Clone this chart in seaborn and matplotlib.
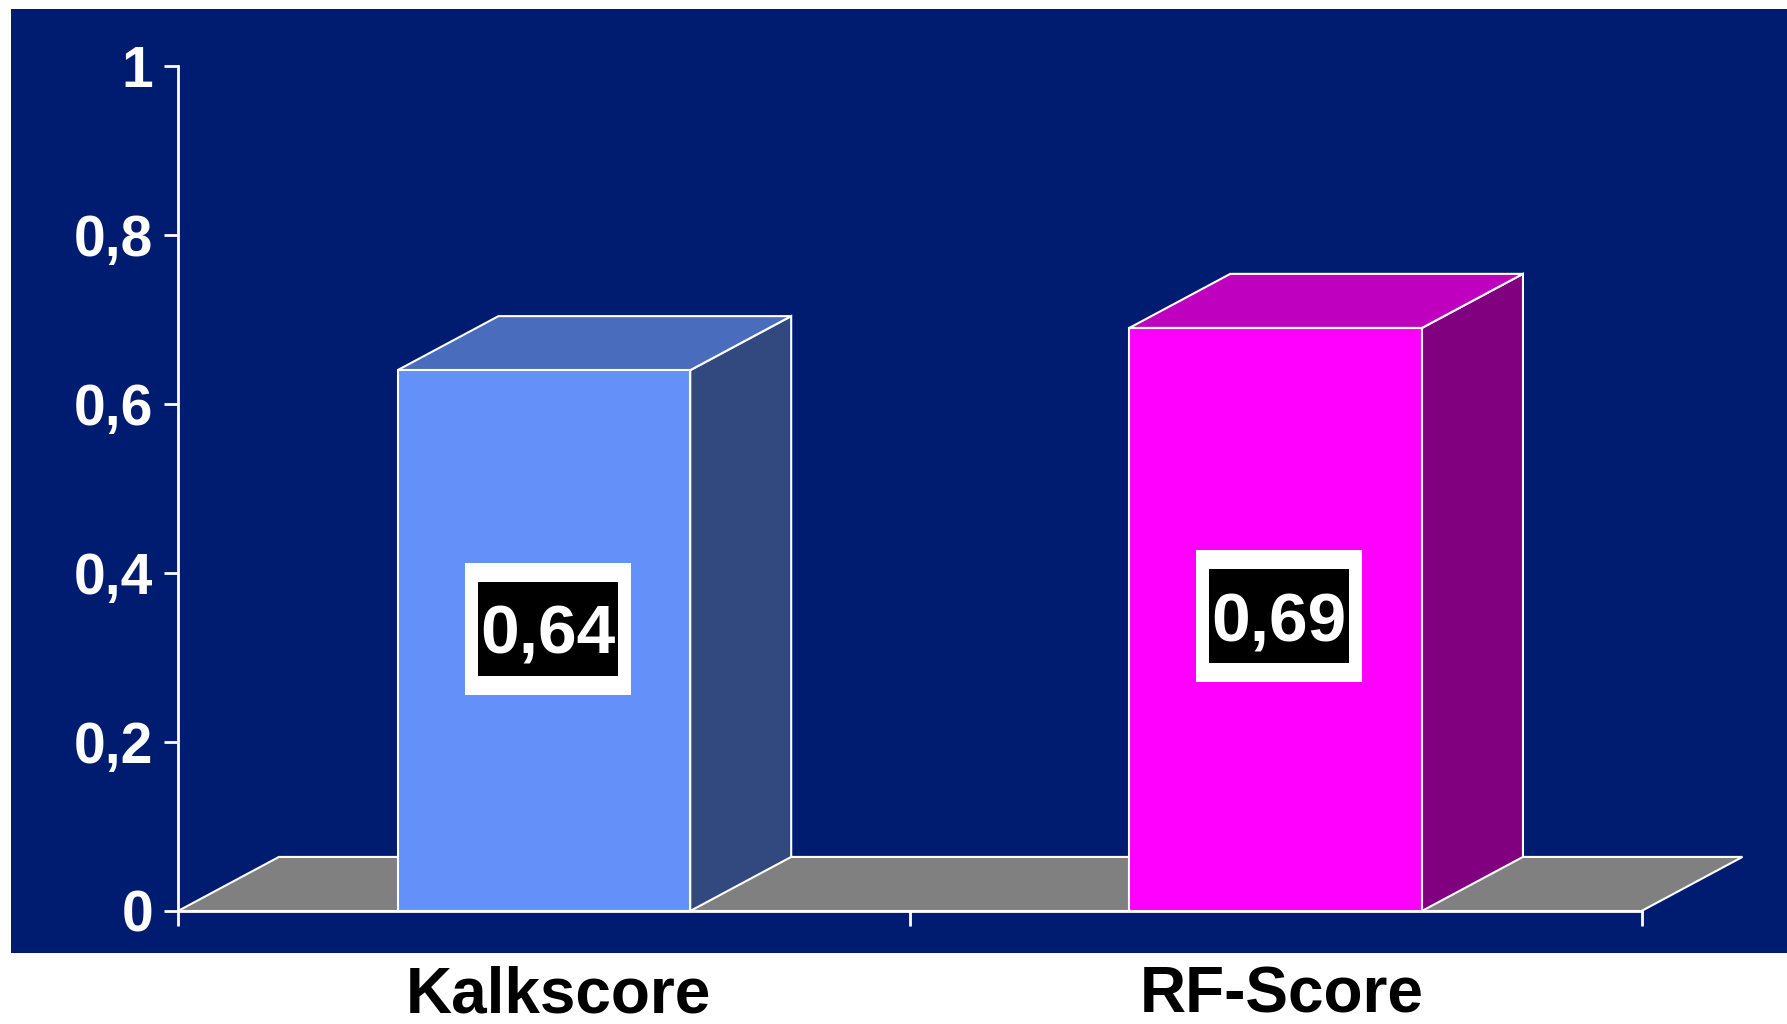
import matplotlib
matplotlib.use("Agg")
import matplotlib.pyplot as plt
from matplotlib.patches import Polygon, Rectangle
from matplotlib.transforms import blended_transform_factory
import seaborn as sns

# Scores compared in the chart
categories = ["Kalkscore", "RF-Score"]
values = [0.64, 0.69]
value_labels = ["0,64", "0,69"]
ytick_values = [0, 0.2, 0.4, 0.6, 0.8, 1.0]
ytick_labels = ["0", "0,2", "0,4", "0,6", "0,8", "1"]

# Face colours of each box: front, top, side
front_colors = ["#6490FA", "#FF00FF"]
top_colors = ["#4A6CBD", "#BF00BF"]
side_colors = ["#32497F", "#800080"]

BG = "#001C71"
FLOOR = "#808080"
DEPTH_X = 0.138   # depth offset in category units
DEPTH_Y = 0.064   # depth offset in value units
LABEL_SHIFT = [0.014, 0.004]  # vertical nudge of each value box above mid-bar

sns.set_theme(style="white")
plt.rcParams["font.family"] = ["Liberation Sans", "DejaVu Sans"]
plt.rcParams["font.weight"] = "bold"

fig = plt.figure(figsize=(17.87, 10.24), dpi=100, facecolor="white")
# dark blue panel behind the plot
panel = Rectangle((11 / 1787, 1 - 953 / 1024), 1776 / 1787, 944 / 1024,
                  transform=fig.transFigure, facecolor=BG, edgecolor="none",
                  zorder=-10)
fig.patches.append(panel)

ax = fig.add_axes([178 / 1787, 113 / 1024, 1463.5 / 1787, 845 / 1024])
ax.set_facecolor("none")
ax.set_zorder(1)

sns.barplot(x=categories, y=values, hue=categories, palette=front_colors,
            saturation=1, width=0.4, edgecolor="white", linewidth=1.5,
            legend=False, ax=ax, zorder=3)

ax.set_xlim(-0.5, len(categories) - 0.5)
ax.set_ylim(0, 1)

# grey floor under the boxes
x0, x1 = ax.get_xlim()
floor = Polygon([(x0, 0), (x1, 0), (x1 + DEPTH_X, DEPTH_Y), (x0 + DEPTH_X, DEPTH_Y)],
                closed=True, facecolor=FLOOR, edgecolor="white", linewidth=1.5,
                zorder=1, clip_on=False)
ax.add_patch(floor)

# top and side faces built from each bar's own geometry
bars = [p for p in ax.patches if p is not floor][:len(values)]
for bar, top_c, side_c in zip(bars, top_colors, side_colors):
    bx0 = bar.get_x()
    bx1 = bx0 + bar.get_width()
    h = bar.get_height()
    side = Polygon([(bx1, 0), (bx1 + DEPTH_X, DEPTH_Y), (bx1 + DEPTH_X, h + DEPTH_Y), (bx1, h)],
                   closed=True, facecolor=side_c, edgecolor="white", linewidth=1.5,
                   zorder=2, clip_on=False)
    top = Polygon([(bx0, h), (bx1, h), (bx1 + DEPTH_X, h + DEPTH_Y), (bx0 + DEPTH_X, h + DEPTH_Y)],
                  closed=True, facecolor=top_c, edgecolor="white", linewidth=1.5,
                  zorder=2, clip_on=False)
    ax.add_patch(side)
    ax.add_patch(top)

# value labels in white-framed black boxes (box sizes in axis units)
px_x = 1.0 / 731.7   # one pixel in category units
px_y = 1.0 / 845.0   # one pixel in value units
outer_w, outer_h = 166 * px_x, 132 * px_y
inner_w, inner_h = 140 * px_x, 94 * px_y
for i, (v, lab) in enumerate(zip(values, value_labels)):
    cx, cy = i + 0.005, v / 2 + LABEL_SHIFT[i]
    ax.add_patch(Rectangle((cx - outer_w / 2, cy - outer_h / 2), outer_w, outer_h,
                           facecolor="white", edgecolor="none", zorder=5))
    ax.add_patch(Rectangle((cx - inner_w / 2, cy - inner_h / 2), inner_w, inner_h,
                           facecolor="black", edgecolor="none", zorder=6))
    ax.annotate(lab, xy=(cx, cy), xytext=(0, -18), textcoords="offset points",
                ha="center", va="baseline", color="white", fontsize=50,
                fontweight="bold", zorder=7)

# axes styling
sns.despine(ax=ax, top=True, right=True)
for s in ("left", "bottom"):
    ax.spines[s].set_color("white")
    ax.spines[s].set_linewidth(2)
    ax.spines[s].set_zorder(4)

ax.set_yticks(ytick_values)
ax.set_yticklabels(ytick_labels)
ax.tick_params(axis="y", colors="white", length=10, width=2, pad=8,
               labelsize=41, left=True)
for t in ax.get_yticklabels():
    t.set_fontweight("bold")

ax.set_xticks([x0 + k for k in range(len(categories) + 1)])
ax.set_xticklabels([])
ax.tick_params(axis="x", colors="white", length=11, width=2, bottom=True,
               direction="out")

# category names below the panel
trans = blended_transform_factory(ax.transData, ax.transAxes)
for i, name in enumerate(categories):
    ax.text(i + 0.02 - 0.012 * i, -0.136, name, transform=trans, ha="center",
            va="bottom", color="black", fontsize=46, fontweight="bold")

ax.set_xlabel("")
ax.set_ylabel("")

fig.savefig("out.png", dpi=100, facecolor="white")
